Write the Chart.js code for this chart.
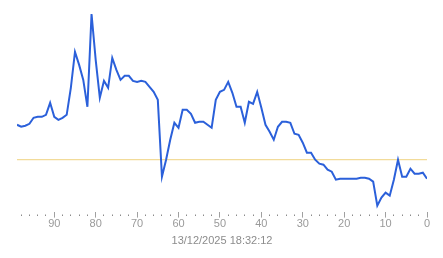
<!DOCTYPE html>
<html>
<head>
<meta charset="utf-8">
<script src="https://cdn.jsdelivr.net/npm/chart.js@4/dist/chart.umd.min.js"></script>
<style>
  html, body { margin: 0; padding: 0; background: #fff; }
  #wrap { width: 443px; height: 258px; }
</style>
</head>
<body>
<div id="wrap"><canvas id="chart"></canvas></div>
<script>
// x positions (counting down to 0 on the right)
var xValues = [99, 98, 97, 96, 95, 94, 93, 92, 91, 90,
               89, 88, 87, 86, 85, 84, 83, 82, 81, 80,
               79, 78, 77, 76, 75, 74, 73, 72, 71, 70,
               69, 68, 67, 66, 65, 64, 63, 62, 61, 60,
               59, 58, 57, 56, 55, 54, 53, 52, 51, 50,
               49, 48, 47, 46, 45, 44, 43, 42, 41, 40,
               39, 38, 37, 36, 35, 34, 33, 32, 31, 30,
               29, 28, 27, 26, 25, 24, 23, 22, 21, 20,
               19, 18, 17, 16, 15, 14, 13, 12, 11, 10,
               9, 8, 7, 6, 5, 4, 3, 2, 1, 0];

var seriesValues = [87, 85, 86, 88, 94, 95, 95, 97, 109, 95,
                    92, 94, 97, 124, 160, 147, 132, 105, 198, 152,
                    114, 131, 124, 154, 142, 132, 136, 136, 131, 130,
                    131, 130, 125, 120, 112, 35, 52, 72, 89, 84,
                    102, 102, 98, 89, 90, 90, 87, 84, 112, 120,
                    122, 130, 119, 105, 105, 89, 110, 108, 120, 104,
                    87, 80, 72, 85, 90, 90, 89, 78, 77, 69,
                    59, 59, 52, 48, 47, 42, 40, 32, 33, 33,
                    33, 33, 33, 34, 34, 33, 30, 6, 14, 19,
                    16, 32, 52, 35, 35, 43, 38, 38, 39, 33];

var referenceValue = 52;
var axisTitle = "13/12/2025 18:32:12";

var mainData = xValues.map(function(x, i) {
    return { x: x, y: seriesValues[i] };
});
var refData = [
    { x: xValues[0], y: referenceValue },
    { x: xValues[xValues.length - 1], y: referenceValue }
];

function isMajor(v) {
    return v % 10 === 0;
}

var config = {
    type: 'line',
    data: {
        datasets: [{
            data: refData,
            borderColor: '#efd27f',
            borderWidth: 1,
            pointRadius: 0,
            order: 2
        }, {
            data: mainData,
            borderColor: '#2b60da',
            borderWidth: 2,
            pointRadius: 0,
            tension: 0,
            order: 1
        }]
    },
    options: {
        responsive: true,
        maintainAspectRatio: false,
        animation: false,
        layout: {
            padding: { left: 17, right: 16, top: 12, bottom: 10 }
        },
        plugins: {
            legend: { display: false },
            tooltip: { enabled: false }
        },
        scales: {
            x: {
                type: 'linear',
                reverse: true,
                min: 0,
                max: 99,
                border: { display: false },
                grid: {
                    drawOnChartArea: false,
                    drawTicks: true,
                    tickLength: 6,
                    tickWidth: 1,
                    tickColor: function(ctx) {
                        return isMajor(ctx.tick.value) ? '#a0a0a0' : '#8a8a8a';
                    },
                    tickBorderDash: function(ctx) {
                        return isMajor(ctx.tick.value) ? [] : [0, 2.5, 1.5, 20];
                    }
                },
                ticks: {
                    stepSize: 2,
                    includeBounds: false,
                    autoSkip: false,
                    maxRotation: 0,
                    padding: 0,
                    color: '#9a9a9a',
                    font: { family: 'Liberation Sans', size: 11 },
                    callback: function(v) {
                        return isMajor(v) ? String(v) : '';
                    }
                },
                title: {
                    display: true,
                    text: axisTitle,
                    color: '#8c8c8c',
                    font: { family: 'Liberation Sans', size: 11 },
                    padding: { top: 4, bottom: 0 }
                }
            },
            y: {
                display: false,
                min: 0,
                max: 200
            }
        }
    }
};

var ctx = document.getElementById('chart');
window.myChart = new Chart(ctx, config);
</script>
</body>
</html>
